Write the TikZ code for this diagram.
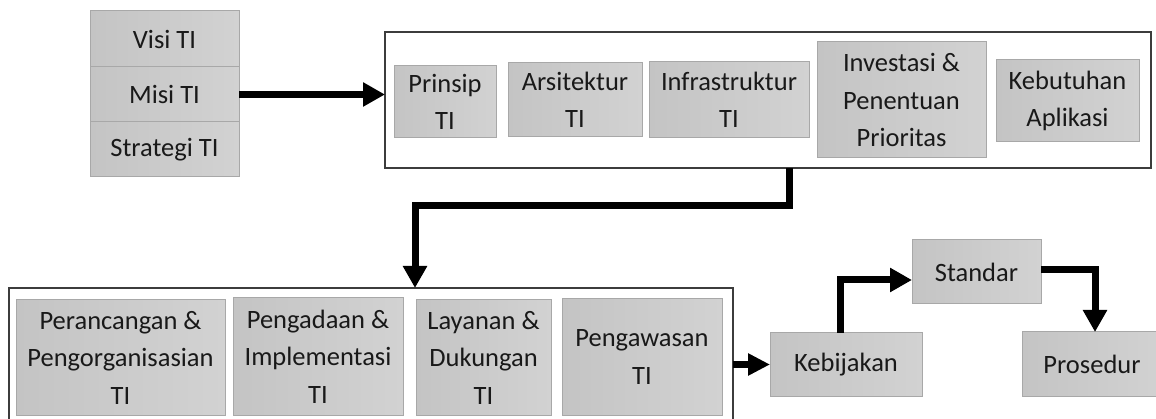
\documentclass[tikz,border=0pt]{standalone}
\usepackage{fontspec}
\setmainfont{Carlito}
\usetikzlibrary{arrows.meta}
\definecolor{boxfillL}{RGB}{196,196,196}
\definecolor{boxfillR}{RGB}{210,210,210}
\definecolor{boxline}{RGB}{168,168,168}
\definecolor{frameline}{RGB}{60,60,60}
\definecolor{txt}{RGB}{25,25,25}
\begin{document}
\begin{tikzpicture}[x=1pt,y=-1pt,
 gbox/.style={draw=boxline, line width=1pt, left color=boxfillL, right color=boxfillR, inner sep=0pt, outer sep=0pt, align=center, text=txt, font=\fontsize{26.5}{37.5}\selectfont, anchor=north west},
 frame/.style={draw=frameline, line width=1.5pt, fill=white, inner sep=0pt, outer sep=0pt, anchor=north west},
 arr/.style={line width=7pt, -{Triangle[length=22pt,width=23pt]}},
 ]
\useasboundingbox (0,0) rectangle (1156,419);
\clip (0,0) rectangle (1156,419);
% left stack
\node[gbox, minimum width=149pt, minimum height=56pt] (visi) at (90,11) {Visi TI};
\node[gbox, minimum width=149pt, minimum height=55pt] (misi) at (90,67) {Misi TI};
\node[gbox, minimum width=149pt, minimum height=55pt] (strat) at (90,122) {Strategi TI};
% top frame
\node[frame, minimum width=766pt, minimum height=136pt] (topframe) at (385,32) {};
\node[gbox, minimum width=102pt, minimum height=72pt] (prinsip) at (394,66) {Prinsip\\TI};
\node[gbox, minimum width=134pt, minimum height=74pt] (arsi) at (508,63) {Arsitektur\\TI};
\node[gbox, minimum width=160pt, minimum height=76pt] (infra) at (649,62) {Infrastruktur\\TI};
\node[gbox, minimum width=169pt, minimum height=116pt] (inv) at (817,42) {Investasi \&\\Penentuan\\Prioritas};
\node[gbox, minimum width=143pt, minimum height=82pt] (keb) at (996,60) {Kebutuhan\\Aplikasi};
% bottom frame
\node[frame, minimum width=724pt, minimum height=140pt] (botframe) at (9,288) {};
\node[gbox, minimum width=209pt, minimum height=115pt] (peran) at (16,300) {Perancangan \&\\Pengorganisasian\\TI};
\node[gbox, minimum width=170pt, minimum height=117pt] (pengad) at (233,298) {Pengadaan \&\\Implementasi\\TI};
\node[gbox, minimum width=135pt, minimum height=115pt] (layan) at (416,300) {Layanan \&\\Dukungan\\TI};
\node[gbox, minimum width=160pt, minimum height=116pt] (pengaw) at (562,299) {Pengawasan\\TI};
% right part
\node[gbox, minimum width=152pt, minimum height=63pt] (kebij) at (770,333) {Kebijakan};
\node[gbox, minimum width=129pt, minimum height=64pt] (standar) at (912,240) {Standar};
\node[gbox, minimum width=140pt, minimum height=64pt] (prosedur) at (1022,332) {Prosedur};
% connectors
\draw[arr] (misi.east) -- (topframe.west |- misi.east);
\coordinate (c1) at (789,206);
\coordinate (c2) at (415,206);
\draw[arr] (topframe.south -| c1) -- (c1) -- (c2) -- (c2 |- botframe.north);
\draw[arr, -{Triangle[length=22pt,width=21pt]}] (kebij.west -| botframe.east) -- (kebij.west);
\coordinate (c3) at (840,280);
\draw[arr] (kebij.north -| c3) -- (c3) -- (standar.west |- c3);
\coordinate (c4) at (1095,270);
\draw[arr] (standar.east |- c4) -- (c4) -- (c4 |- prosedur.north);
\end{tikzpicture}
\end{document}
